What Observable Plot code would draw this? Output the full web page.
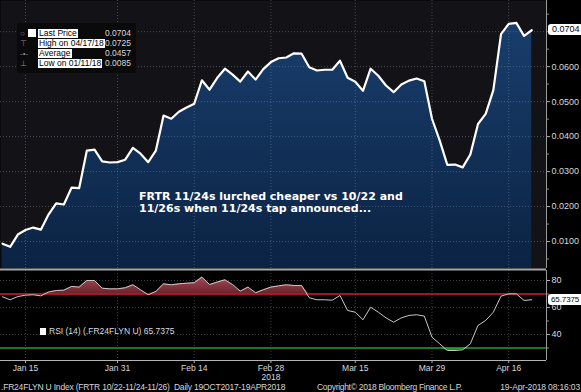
<!DOCTYPE html>
<html><head><meta charset="utf-8">
<script src="https://cdn.jsdelivr.net/npm/d3@7"></script>
<script src="https://cdn.jsdelivr.net/npm/@observablehq/plot@0.6"></script>
<style>
body{margin:0;background:#000;}
#wrap{position:relative;width:581px;height:392px;background:#000;overflow:hidden;font-family:"Liberation Sans",Arial,sans-serif;}
#wrap svg{position:absolute;left:0;}
.abs{position:absolute;white-space:pre;}
.lrow{position:absolute;left:0;height:10px;width:119px;font-size:8.5px;line-height:9px;}
.lrow .lab{position:absolute;left:21px;top:0;background:#fff;color:#000;padding:0 1px;}
.lrow .val{position:absolute;right:5px;top:0;color:#d6d6d6;}
.lrow .ico{position:absolute;left:3px;top:0;color:#8a8a8a;font-size:8px;}
.tag{position:absolute;left:548px;width:33px;height:11px;background:#fff;color:#000;border-radius:3px 0 0 3px;line-height:11px;}
</style></head><body><div id="wrap"></div>
<script>
const dates = [
"2018-01-10","2018-01-11","2018-01-12","2018-01-15","2018-01-16","2018-01-17","2018-01-18","2018-01-19","2018-01-22","2018-01-23","2018-01-24","2018-01-25","2018-01-26","2018-01-29","2018-01-30","2018-01-31",
"2018-02-01","2018-02-02","2018-02-05","2018-02-06","2018-02-07","2018-02-08","2018-02-09","2018-02-12","2018-02-13","2018-02-14","2018-02-15","2018-02-16","2018-02-19","2018-02-20","2018-02-21","2018-02-22","2018-02-23","2018-02-26","2018-02-27","2018-02-28",
"2018-03-01","2018-03-02","2018-03-05","2018-03-06","2018-03-07","2018-03-08","2018-03-09","2018-03-12","2018-03-13","2018-03-14","2018-03-15","2018-03-16","2018-03-19","2018-03-20","2018-03-21","2018-03-22","2018-03-23","2018-03-26","2018-03-27","2018-03-28","2018-03-29",
"2018-04-03","2018-04-04","2018-04-05","2018-04-06","2018-04-09","2018-04-10","2018-04-11","2018-04-12","2018-04-13","2018-04-16","2018-04-17","2018-04-18","2018-04-19"];
const price = [
0.0094,0.0085,0.0120,0.0133,0.0140,0.0134,0.0177,0.0209,0.0206,0.0254,0.0253,0.0360,0.0363,0.0329,0.0326,0.0327,
0.0334,0.0368,0.0351,0.0327,0.0360,0.0460,0.0451,0.0471,0.0483,0.0494,0.0561,0.0534,0.0568,0.0594,0.0577,0.0557,0.0586,0.0563,0.0593,0.0613,
0.0624,0.0626,0.0638,0.0637,0.0598,0.0589,0.0591,0.0591,0.0617,0.0568,0.0557,0.0531,0.0594,0.0574,0.0546,0.0527,0.0549,0.0560,0.0566,0.0558,0.0451,
0.0389,0.0319,0.0320,0.0312,0.0349,0.0436,0.0465,0.0533,0.0693,0.0722,0.0725,0.0688,0.0704];
const rsi = [
67.9,65.7,68.1,69.1,69.4,68.6,71.4,72.6,72.8,75.6,75.1,80.0,80.0,74.3,73.8,73.8,
74.6,76.8,73.1,69.4,71.9,77.5,76.8,77.5,78.0,78.3,82.5,77.0,78.8,80.5,77.0,72.1,75.1,70.9,73.1,75.1,
76.0,76.8,76.3,76.3,67.2,65.7,65.7,65.4,68.9,57.8,56.5,50.9,60.2,56.5,52.3,49.1,52.3,54.1,54.6,53.6,38.0,
33.1,28.1,28.1,28.6,33.1,46.7,50.4,56.5,68.4,70.1,70.1,65.2,65.7375];
const tickDates = ["2018-01-15","2018-01-31","2018-02-14","2018-02-28","2018-03-15","2018-03-29","2018-04-16"];
const tickLabels = ["Jan 15","Jan 31","Feb 14","Feb 28","Mar 15","Mar 29","Apr 16"];
const yearDate = "2018-02-28";
const yearLabel = "2018";
const priceTicks = [0.01,0.02,0.03,0.04,0.05,0.06];
const priceMinor = [0.005,0.015,0.025,0.035,0.045,0.055,0.065,0.07,0.075];
const priceGrid = [0.01,0.02,0.03,0.04,0.05,0.06,0.07];
const rsiTicks = [40,60,80];
const rsiMinor = [30,50,70];
const rsiUpper = 70, rsiLower = 30;
const legendLabels = ["Last Price","High on 04/17/18","Average","Low on 01/11/18"];
const legendValues = ["0.0704","0.0725","0.0457","0.0085"];
const lastPrice = 0.0704;
const rsiLast = 65.7375;
const rsiLabel = "RSI (14) (.FR24FLYN U) 65.7375";
const note = ["FRTR 11/24s lurched cheaper vs 10/22 and","11/26s when 11/24s tap announced..."];
const footLeft = ".FR24FLYN U Index (FRTR 10/22-11/24-11/26)  Daily 19OCT2017-19APR2018";
const footMid = "Copyright\u00a9 2018 Bloomberg Finance L.P.";
const footRight = "19-Apr-2018 08:16:03";

const W = 581;
const xDomain = [-0.26, 70.93];
const yTop = [0.0023, 0.0789];
const yRsi = [20.7, 87.4];
const data = dates.map((d, i) => ({i, price: price[i], rsi: rsi[i]}));
const tickIdx = tickDates.map(d => dates.indexOf(d));
const yearIdx = dates.indexOf(yearDate);
const font = "Liberation Sans, Arial, sans-serif";
const grid = {stroke: "#8796a8", strokeOpacity: 0.42, strokeDasharray: "1,2"};

const wrap = document.getElementById("wrap");

const topChart = Plot.plot({
  width: W, height: 270,
  marginLeft: 0, marginRight: 35, marginTop: 0, marginBottom: 2,
  style: {background: "transparent", color: "#d8d8d8", fontFamily: font, fontSize: "9px", overflow: "visible"},
  x: {domain: xDomain, axis: null},
  y: {domain: yTop, axis: null},
  marks: [
    Plot.frame({fill: "#131217", stroke: "none"}),
    Plot.areaY(data, {x: "i", y1: () => yTop[0], y2: "price", fill: "url(#navyGrad)"}),
    Plot.ruleX(tickIdx, grid),
    Plot.ruleY(priceGrid, grid),
    Plot.lineY(data, {x: "i", y: "price", stroke: "#ffffff", strokeWidth: 2.2}),
    Plot.ruleX([xDomain[1]], {stroke: "#9a9a9a"}),
    Plot.axisY(priceTicks, {anchor: "right", label: null, tickFormat: d3.format(".4f"), tickSize: 3, tickPadding: 2, stroke: "#b0b0b0", fill: "#d8d8d8"}),
    Plot.axisY(priceMinor, {anchor: "right", label: null, text: null, tickSize: 2, stroke: "#888"}),
    Plot.ruleY([yTop[0]], {stroke: "#a8a8a8", strokeWidth: 2, dy: 1})
  ]
});
topChart.style.top = "0px";
d3.select(topChart).insert("defs", ":first-child").html(
  '<linearGradient id="navyGrad" gradientUnits="userSpaceOnUse" x1="0" y1="0" x2="0" y2="268">' +
  '<stop offset="0" stop-color="#1a4070"/><stop offset="1" stop-color="#0b2343"/></linearGradient>');
wrap.appendChild(topChart);

const rsiChart = Plot.plot({
  width: W, height: 122,
  marginLeft: 0, marginRight: 35, marginTop: 0, marginBottom: 32,
  style: {background: "transparent", color: "#d8d8d8", fontFamily: font, fontSize: "9px", overflow: "visible"},
  x: {domain: xDomain, axis: null},
  y: {domain: yRsi, axis: null},
  marks: [
    Plot.ruleX(tickIdx, grid),
    Plot.ruleY(rsiTicks, grid),
    Plot.areaY(data, {x: "i", y1: () => rsiUpper, y2: d => Math.max(d.rsi, rsiUpper), fill: "url(#redGrad)"}),
    Plot.areaY(data, {x: "i", y1: () => rsiLower, y2: d => Math.min(d.rsi, rsiLower), fill: "#2e8a36"}),
    Plot.ruleY([rsiUpper], {stroke: "#d21f2e", strokeWidth: 1.5}),
    Plot.ruleY([rsiLower], {stroke: "#1f9e28", strokeWidth: 1.5}),
    Plot.lineY(data, {x: "i", y: "rsi", stroke: "#c9c9c9", strokeWidth: 1}),
    Plot.ruleX([xDomain[1]], {stroke: "#9a9a9a"}),
    Plot.ruleY([yRsi[0]], {stroke: "#b4b4b4"}),
    Plot.axisY(rsiTicks, {anchor: "right", label: null, tickSize: 3, tickPadding: 2, stroke: "#b0b0b0", fill: "#d8d8d8"}),
    Plot.axisY(rsiMinor, {anchor: "right", label: null, text: null, tickSize: 2, stroke: "#888"}),
    Plot.axisX(tickIdx, {anchor: "bottom", label: null, tickSize: 3, tickPadding: 1, lineHeight: 1.08, fontSize: 8.5,
      stroke: "#b0b0b0", fill: "#d8d8d8",
      tickFormat: i => tickLabels[tickIdx.indexOf(i)] + (i === yearIdx ? "\n" + yearLabel : "")})
  ]
});
rsiChart.style.top = "270px";
d3.select(rsiChart).insert("defs", ":first-child").html(
  '<linearGradient id="redGrad" gradientUnits="userSpaceOnUse" x1="0" y1="5" x2="0" y2="24">' +
  '<stop offset="0" stop-color="#a4505c"/><stop offset="1" stop-color="#6c1f2a"/></linearGradient>');
wrap.appendChild(rsiChart);

// legend box
const leg = document.createElement("div");
leg.className = "abs";
leg.style.cssText = "left:17px;top:23px;width:119px;height:50px;background:#0a0a0a;";
const icons = ["", "\u22a4", "-\u2022-", "\u22a5"];
legendLabels.forEach((t, k) => {
  const r = document.createElement("div");
  r.className = "lrow";
  r.style.top = (6 + k * 10) + "px";
  r.innerHTML = (k === 0
      ? '<span class="ico" style="left:3px">\u25cb</span><span style="position:absolute;left:11px;top:0;width:8px;height:8px;background:#fff"></span>'
      : '<span class="ico">' + icons[k] + '</span>') +
    '<span class="lab">' + t + '</span><span class="val">' + legendValues[k] + '</span>';
  leg.appendChild(r);
});
wrap.appendChild(leg);

// value tags, placed through the plots' own y scales
const yP = topChart.scale("y").apply(lastPrice);
const tag1 = document.createElement("div");
tag1.className = "tag";
tag1.style.cssText += "top:" + (yP - 5.5) + "px;font-size:9px;text-indent:4px;";
tag1.textContent = lastPrice.toFixed(4);
wrap.appendChild(tag1);

const yR = 270 + rsiChart.scale("y").apply(rsiLast);
const tag2 = document.createElement("div");
tag2.className = "tag";
tag2.style.cssText += "top:" + (yR - 5.5) + "px;font-size:8px;text-indent:3px;letter-spacing:-0.1px;";
tag2.textContent = rsiLast.toFixed(4);
wrap.appendChild(tag2);

// annotation
const ann = document.createElement("div");
ann.className = "abs";
ann.style.cssText = "left:139px;top:190.5px;color:#fff;font:bold 11px 'DejaVu Sans',Verdana,sans-serif;line-height:12.5px;";
ann.innerHTML = note.join("<br>");
wrap.appendChild(ann);

// RSI legend
const rl = document.createElement("div");
rl.className = "abs";
rl.style.cssText = "left:40px;top:327px;font-size:8.5px;line-height:9px;color:#dcdcdc;";
rl.innerHTML = '<span style="display:inline-block;width:6px;height:7px;background:#fff;margin-right:3px;vertical-align:-1px"></span>' + rsiLabel;
wrap.appendChild(rl);

// footer
function foot(txt, css) {
  const f = document.createElement("div");
  f.className = "abs";
  f.style.cssText = "top:383px;font-size:8.5px;line-height:8px;color:#d6d6d6;" + css;
  f.textContent = txt;
  wrap.appendChild(f);
}
foot(footLeft, "left:1px;letter-spacing:-0.2px;");
foot(footMid, "left:317px;letter-spacing:-0.3px;");
foot(footRight, "right:1px;letter-spacing:-0.15px;");
</script></body></html>
